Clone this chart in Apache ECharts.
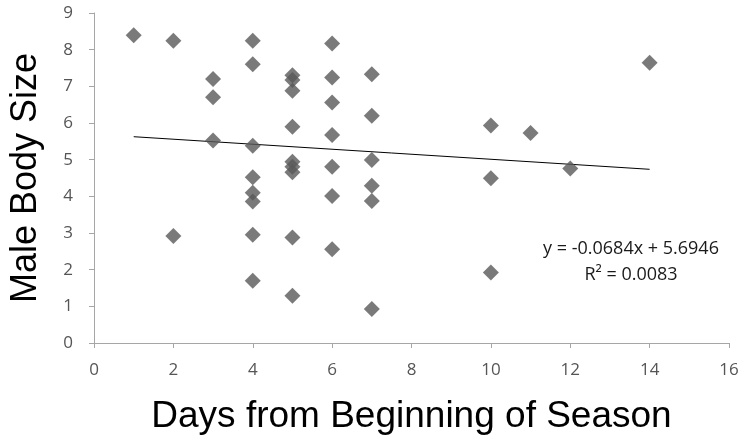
<!DOCTYPE html>
<html><head><meta charset="utf-8">
<script src="https://cdn.jsdelivr.net/npm/echarts@6/dist/echarts.min.js"></script>
<style>html,body{margin:0;padding:0;background:#fff}#c{width:746px;height:446px}</style>
</head><body><div id="c"></div>
<script>
const days = [1, 2, 2, 3, 3, 3, 4, 4, 4, 4, 4, 4, 4, 4, 5, 5, 5, 5, 5, 5, 5, 5, 5, 6, 6, 6, 6, 6, 6, 6, 7, 7, 7, 7, 7, 7, 10, 10, 10, 11, 12, 14];
const bodySize = [8.39, 8.24, 2.92, 7.20, 6.70, 5.52, 8.24, 7.60, 5.38, 4.52, 4.10, 3.86, 2.95, 1.70, 7.30, 7.17, 6.88, 5.90, 4.94, 4.81, 4.66, 2.88, 1.29, 8.17, 7.24, 6.56, 5.67, 4.81, 4.01, 2.56, 7.33, 6.20, 4.99, 4.29, 3.87, 0.93, 5.93, 4.49, 1.92, 5.73, 4.76, 7.64];
const trendSlope = -0.0684;
const trendIntercept = 5.6946;
const rSquared = 0.0083;
const xTicks = [0, 2, 4, 6, 8, 10, 12, 14, 16];
const yTicks = [0, 1, 2, 3, 4, 5, 6, 7, 8, 9];

const pts = days.map((d, i) => [d, bodySize[i]]);
const xMin = Math.min(...days), xMax = Math.max(...days);
const trend = [[xMin, trendSlope * xMin + trendIntercept], [xMax, trendSlope * xMax + trendIntercept]];

const chart = echarts.init(document.getElementById('c'));
const axisCol = '#a6a6a6';
const lblFont = { fontFamily: 'Open Sans', fontSize: 17, color: '#555' };
chart.setOption({
  animation: false,
  grid: { left: 94, right: 17, top: 13, bottom: 103, containLabel: false, outerBoundsMode: 'none' },
  xAxis: {
    type: 'value', min: xTicks[0], max: xTicks[xTicks.length - 1], interval: xTicks[1] - xTicks[0],
    name: 'Days from Beginning of Season', nameLocation: 'middle', nameGap: 55,
    nameTextStyle: { fontFamily: 'Liberation Sans', fontSize: 37, color: '#000' },
    axisLine: { show: true, lineStyle: { color: axisCol } },
    axisTick: { show: true, length: 5, lineStyle: { color: axisCol } },
    axisLabel: Object.assign({ margin: 19 }, lblFont),
    splitLine: { show: false }
  },
  yAxis: {
    type: 'value', min: yTicks[0], max: yTicks[yTicks.length - 1], interval: yTicks[1] - yTicks[0],
    name: 'Male Body Size', nameLocation: 'middle', nameGap: 50, nameRotate: 90,
    nameTextStyle: { fontFamily: 'Liberation Sans', fontSize: 36, color: '#000' },
    axisLine: { show: true, lineStyle: { color: axisCol } },
    axisTick: { show: true, length: 5, lineStyle: { color: axisCol } },
    axisLabel: Object.assign({ margin: 21 }, lblFont),
    splitLine: { show: false }
  },
  series: [
    {
      type: 'line', data: trend, symbol: 'none', silent: true,
      lineStyle: { color: '#000', width: 1 }, z: 1
    },
    {
      type: 'scatter', data: pts, symbol: 'diamond', symbolSize: 16,
      itemStyle: { color: '#595959' }, z: 2
    }
  ],
  graphic: [
    { type: 'text', x: 631, y: 249, style: { text: 'y = ' + trendSlope + 'x + ' + trendIntercept, font: '18px "Open Sans"', fill: '#1a1a1a', align: 'center', verticalAlign: 'middle' } },
    { type: 'text', x: 631, y: 275, style: { text: 'R² = ' + rSquared, font: '18px "Open Sans"', fill: '#1a1a1a', align: 'center', verticalAlign: 'middle' } }
  ]
});
</script></body></html>
